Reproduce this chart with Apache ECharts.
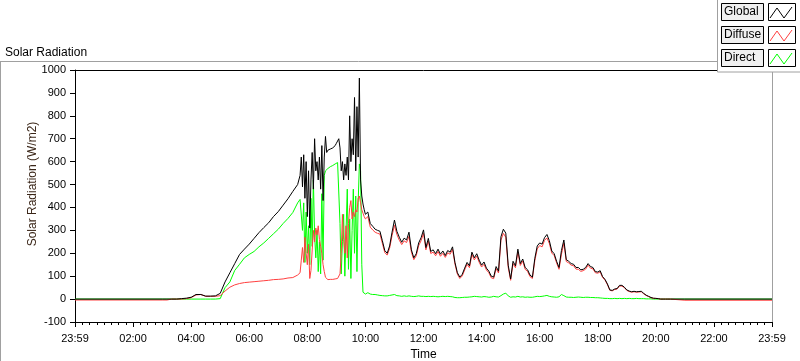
<!DOCTYPE html>
<html>
<head>
<meta charset="utf-8">
<script src="https://cdn.jsdelivr.net/npm/echarts@6/dist/echarts.min.js"></script>
<style>
  html, body { margin: 0; padding: 0; background: #fff; }
  #chart { width: 800px; height: 361px; }
</style>
</head>
<body>
<div id="chart"></div>
<script>
// sampling: night point, 03:00-07:40 every 10 min, 07:45-10:00 every 2.5 min,
// 10:05-20:30 every 5 min, then 21:00 and midnight
function seq(start, step, n) {
  return Array.from({ length: n }, (_, i) => start + i * step)
}
const times = [0].concat(seq(180, 10, 29), seq(465, 2.5, 55), seq(605, 5, 126), [1260, 1440])

const timeLabels = ['23:59', '02:00', '04:00', '06:00', '08:00', '10:00', '12:00',
  '14:00', '16:00', '18:00', '20:00', '22:00', '23:59']

// Global (W/m2)
const globalNight = [0]
const globalMorning = [0, 0, 0, 0, 2, 4, 8, 20, 20, 13, 13, 14, 25, 75, 115, 155, 195, 218, 240, 265,
  290, 312, 333, 360, 382, 410, 438, 470, 500]
const globalPeak = [540, 620, 490, 630, 440, 600, 360, 560, 310, 520, 640, 480, 700, 560, 600, 520,
  620, 480, 670, 430, 620, 710, 640, 650, 645, 655, 650, 660, 665, 670, 680, 690, 700, 660, 560, 600,
  520, 590, 540, 620, 520, 800, 600, 700, 630, 880, 560, 840, 620, 965, 520, 450, 415, 390, 370]
const globalAfternoon = [
  380, 330, 318, 305, 300, 296, 255, 212, 200, 232, 292,
  345, 296, 270, 248, 266, 258, 292, 215, 180, 198, 245, 268,
  302, 225, 265, 208, 215, 198, 218, 196, 210, 190, 212, 205,
  228, 160, 115, 96, 108, 135, 160, 145, 205, 180, 198, 170,
  148, 162, 135, 122, 100, 96, 142, 122, 272, 305, 288, 148,
  88, 165, 145, 218, 155, 175, 138, 128, 105, 96, 178, 232,
  245, 240, 268, 282, 255, 210, 198, 165, 138, 212, 258, 172,
  165, 155, 152, 138, 138, 128, 130, 138, 155, 142, 138, 120,
  118, 124, 98, 86, 66, 40, 38, 44, 46, 60, 60, 52,
  40, 35, 32, 34, 32, 33, 34, 25, 17, 12, 7, 4,
  3, 2, 0, 0, 0, 0, 0]
const globalTail = [0, 0]

// Diffuse (W/m2)
const diffuseNight = [-4]
const diffuseMorning = [-4, -4, 0, 0, 0, 2, 6, 18, 20, 12, 12, 12, 15, 35, 52, 62, 68, 72, 74, 76,
  78, 80, 82, 85, 86, 88, 92, 94, 105]
const diffusePeak = [115, 170, 225, 160, 270, 200, 150, 240, 90, 125, 120, 300, 250, 310, 280, 320,
  260, 230, 200, 150, 120, 95, 88, 85, 85, 86, 86, 86, 87, 88, 88, 90, 92, 110, 200, 370,
  260, 200, 320, 180, 330, 400, 430, 350, 380, 360, 390, 380, 440, 450, 420, 390, 375, 360, 350]
const diffuseAfternoon = [
  360, 314, 302, 292, 287, 284, 244, 203, 192, 222, 277,
  322, 282, 257, 238, 254, 247, 274, 205, 172, 189, 233, 255,
  287, 215, 253, 199, 205, 189, 208, 187, 200, 182, 202, 196,
  217, 153, 109, 90, 101, 127, 152, 137, 195, 171, 188, 161,
  140, 152, 127, 115, 93, 89, 133, 114, 257, 287, 270, 138,
  82, 155, 137, 206, 147, 166, 130, 121, 98, 90, 168, 219,
  234, 228, 256, 267, 243, 201, 190, 158, 130, 196, 244, 164,
  158, 148, 146, 131, 130, 121, 124, 131, 148, 135, 132, 115,
  113, 119, 94, 83, 63, 38, 36, 42, 44, 57, 57, 50,
  38, 33, 30, 32, 30, 31, 32, 23, 16, 11, 6, 3,
  3, 2, 0, 0, 0, 0, 0]
const diffuseTail = [-5, -5]

// Direct (W/m2)
const directNight = [0]
const directMorning = [0, 0, 0, 0, 0, 0, 0, 0, 0, 0, 0, 0, 2, 50, 75, 125, 152, 180, 195, 208,
  228, 245, 265, 285, 305, 330, 352, 378, 420]
const directPeak = [435, 440, 300, 420, 160, 380, 200, 320, 150, 440, 230, 520, 280, 180, 300, 120,
  250, 110, 460, 170, 540, 560, 565, 570, 575, 578, 580, 583, 586, 590, 592, 596, 600, 330, 110, 250,
  370, 100, 300, 480, 130, 350, 90, 300, 480, 200, 450, 120, 420, 590, 560, 150, 30, 25, 22]
const directAfternoon = [
  28, 22, 20, 20, 18, 16, 15, 14, 14, 16, 18,
  20, 15, 14, 12, 14, 12, 14, 12, 11, 12, 14, 12,
  12, 11, 12, 11, 12, 11, 10, 11, 12, 11, 12, 11,
  10, 7, 6, 6, 7, 8, 8, 9, 10, 12, 11, 10,
  9, 11, 10, 8, 9, 12, 10, 9, 15, 22, 26, 14,
  8, 10, 9, 12, 9, 10, 8, 9, 8, 8, 10, 12,
  11, 12, 14, 16, 12, 10, 9, 8, 10, 20, 15, 9,
  8, 8, 7, 8, 9, 8, 7, 8, 8, 7, 7, 6,
  6, 5, 4, 3, 3, 2, 2, 3, 2, 3, 2, 3,
  2, 3, 2, 2, 3, 2, 2, 2, 1, 1, 1, 0,
  0, 0, 0, 0, 0, 0, 0]
const directTail = [0, 0]

const globalVals = [].concat(globalNight, globalMorning, globalPeak, globalAfternoon, globalTail)
const diffuseVals = [].concat(diffuseNight, diffuseMorning, diffusePeak, diffuseAfternoon, diffuseTail)
const directVals = [].concat(directNight, directMorning, directPeak, directAfternoon, directTail)

const toPairs = vals => vals.map((v, i) => [times[i], v])

const seriesNames = ['Global', 'Diffuse', 'Direct']
const seriesColors = ['#000000', '#ff4040', '#00ff00']

const font = 'Liberation Sans, Arial, sans-serif'
const gridLeft = 75, gridTop = 70, gridRight = 772, gridBottom = 322

// LabVIEW style plot legend in the top right corner
const legendItems = [{
  type: 'rect', z: 100,
  shape: { x: 717.5, y: -1, width: 84, height: 73 },
  style: { fill: '#ffffff', stroke: '#a0a0a0', lineWidth: 1 }
}]
seriesNames.forEach((name, i) => {
  const y0 = 3 + i * 23
  legendItems.push({
    type: 'rect', z: 101,
    shape: { x: 721.5, y: y0 + 0.5, width: 42, height: 17 },
    style: { fill: '#f0f0f0', stroke: '#000', lineWidth: 1 }
  }, {
    type: 'text', z: 102, x: 724, y: y0 + 9,
    style: { text: name, font: '12px ' + font, fill: '#000', verticalAlign: 'middle' }
  }, {
    type: 'rect', z: 101,
    shape: { x: 768.5, y: y0 + 0.5, width: 27, height: 17 },
    style: { fill: '#ffffff', stroke: '#000', lineWidth: 1 }
  }, {
    type: 'polyline', z: 102,
    shape: { points: [[770, y0 + 15], [777, y0 + 5], [784, y0 + 15], [792, y0 + 4]] },
    style: { stroke: seriesColors[i], lineWidth: 1, fill: null }
  })
})

const frame = [
  { type: 'line', shape: { x1: 0, y1: 61.5, x2: 717, y2: 61.5 }, style: { stroke: '#a0a0a0', lineWidth: 1 } },
  { type: 'line', shape: { x1: 0.5, y1: 61, x2: 0.5, y2: 361 }, style: { stroke: '#a0a0a0', lineWidth: 1 } },
  { type: 'line', z: 10, shape: { x1: gridLeft, y1: gridTop + 0.5, x2: gridRight, y2: gridTop + 0.5 }, style: { stroke: '#000', lineWidth: 1 } },
  { type: 'line', z: 10, shape: { x1: gridRight + 0.5, y1: gridTop, x2: gridRight + 0.5, y2: gridBottom }, style: { stroke: '#a0a0a0', lineWidth: 1 } }
]

const chart = echarts.init(document.getElementById('chart'))
chart.setOption({
  animation: false,
  backgroundColor: '#ffffff',
  textStyle: { fontFamily: font },
  title: {
    text: 'Solar Radiation', left: 0, top: 42,
    textStyle: { fontSize: 12, fontWeight: 'normal', color: '#000', fontFamily: font }
  },
  grid: {
    left: gridLeft, top: gridTop, right: 800 - gridRight, bottom: 361 - gridBottom,
    outerBoundsMode: 'none'
  },
  xAxis: {
    type: 'value', min: 0, max: 1440, interval: 120,
    name: 'Time', nameLocation: 'middle', nameGap: 27,
    nameTextStyle: { fontSize: 12, color: '#000' },
    axisLine: { onZero: false, lineStyle: { color: '#000' } },
    axisTick: { length: 5, lineStyle: { color: '#000' } },
    minorTick: { show: true, splitNumber: 8, length: 3, lineStyle: { color: '#000' } },
    axisLabel: { fontSize: 11, color: '#000', margin: 11, formatter: v => timeLabels[Math.round(v / 120)] },
    splitLine: { show: false }
  },
  yAxis: {
    type: 'value', min: -100, max: 1000, interval: 100,
    name: 'Solar Radiation (W/m2)', nameLocation: 'middle', nameGap: 36, nameRotate: 90,
    nameMoveOverlap: false,
    nameTextStyle: { fontSize: 12, color: '#3a2618', padding: [0, 0, 0, 24] },
    axisLine: { show: true, onZero: false, lineStyle: { color: '#000' } },
    axisTick: { show: true, length: 5, lineStyle: { color: '#000' } },
    axisLabel: { fontSize: 11, color: '#000', margin: 9, formatter: v => String(v) },
    splitLine: { show: false }
  },
  graphic: frame.concat(legendItems),
  series: [
    { name: 'Direct', type: 'line', data: toPairs(directVals), color: seriesColors[2] },
    { name: 'Diffuse', type: 'line', data: toPairs(diffuseVals), color: seriesColors[1] },
    { name: 'Global', type: 'line', data: toPairs(globalVals), color: seriesColors[0] }
  ].map(s => Object.assign(s, {
    showSymbol: false, symbol: 'none',
    lineStyle: { width: 1, color: s.color }
  }))
})
</script>
</body>
</html>
